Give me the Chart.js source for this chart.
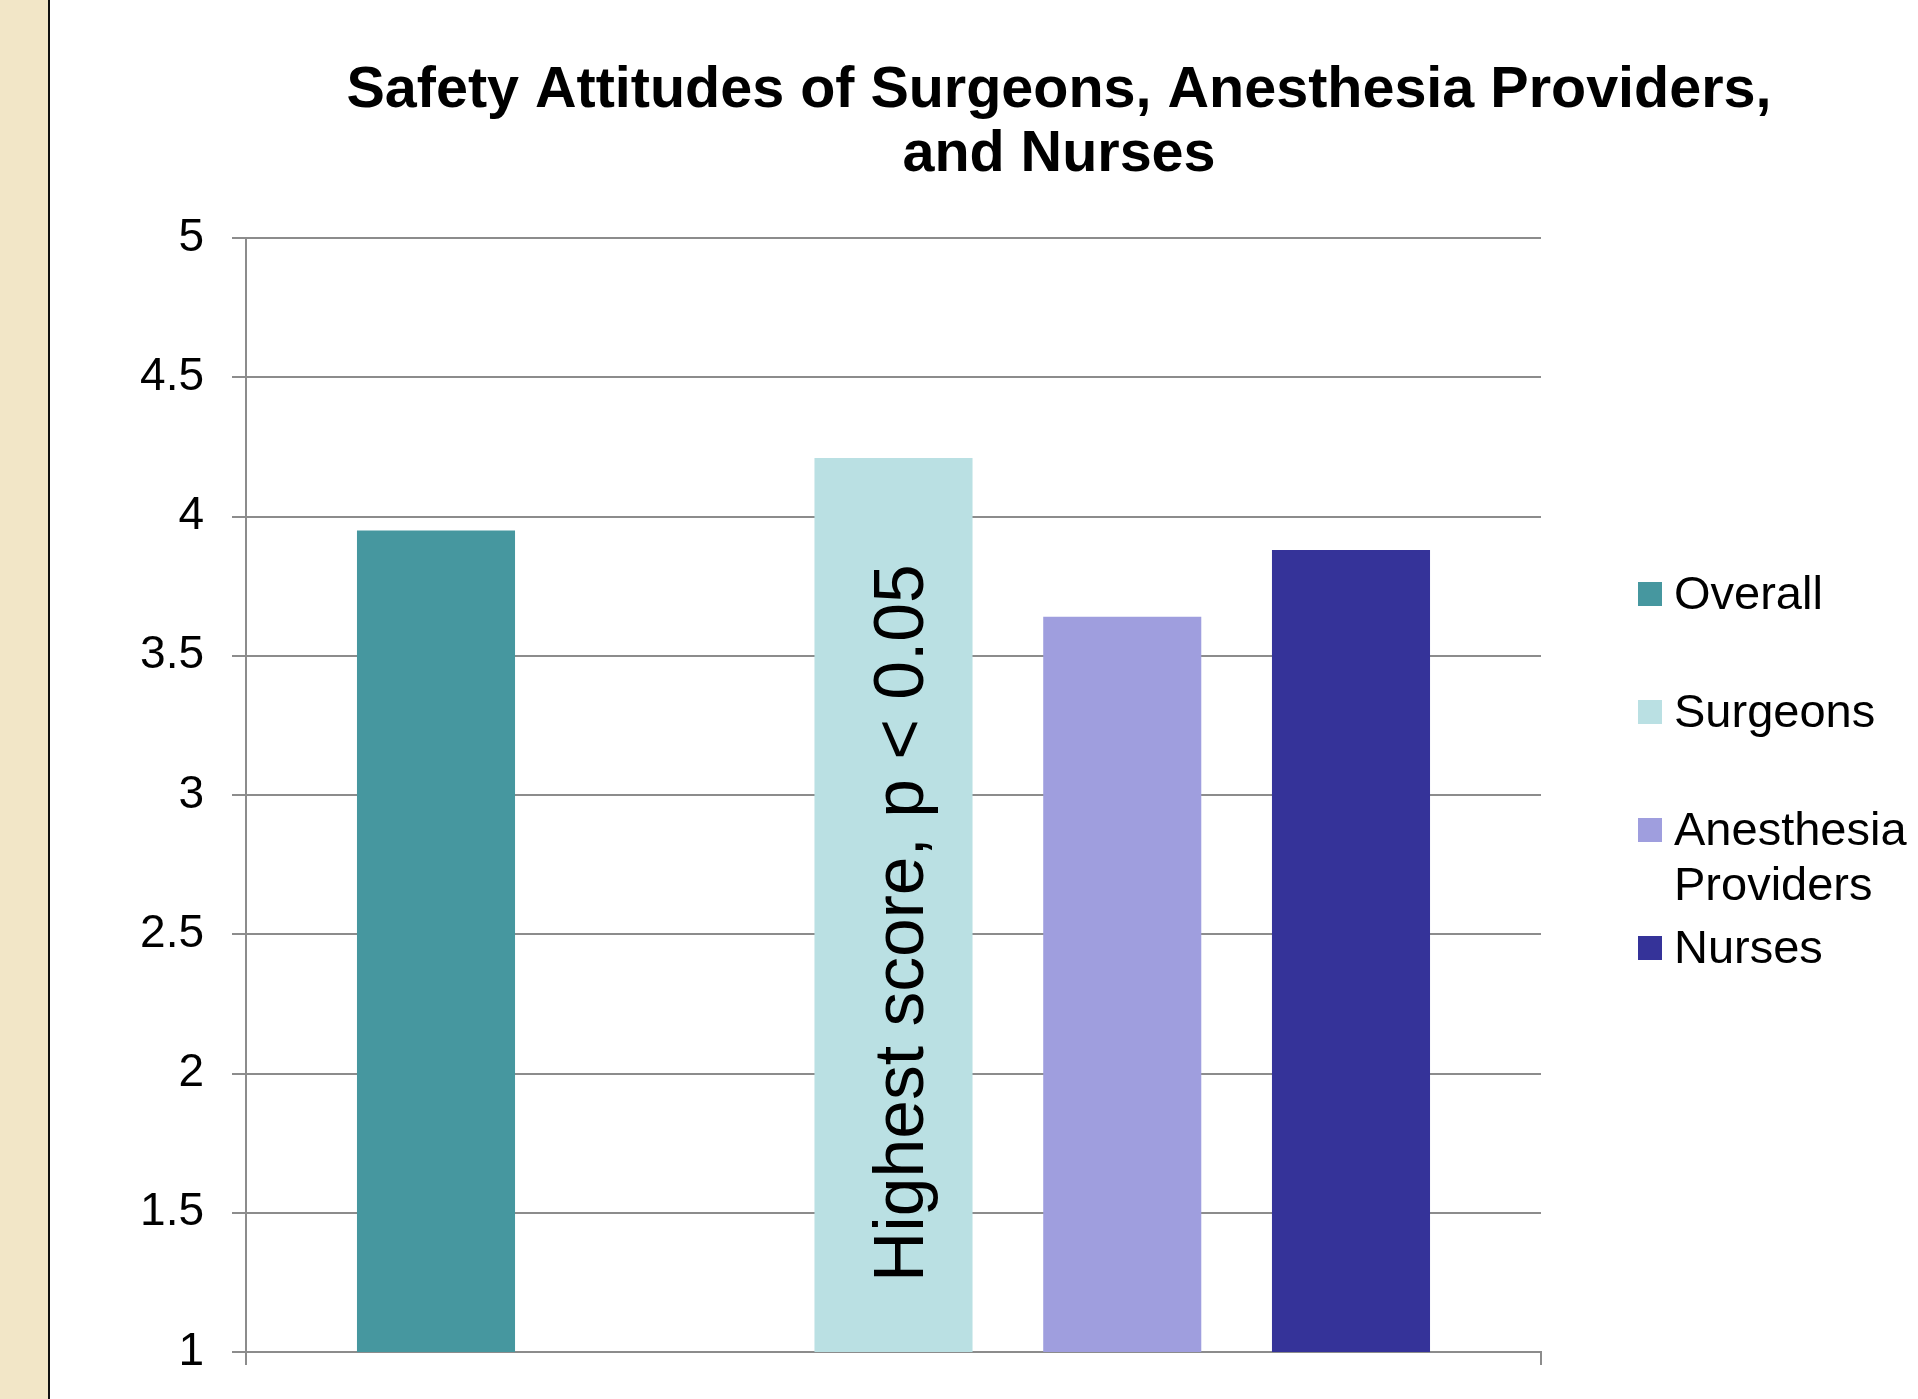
<!DOCTYPE html>
<html>
<head>
<meta charset="utf-8">
<script src="https://cdn.jsdelivr.net/npm/chart.js@4/dist/chart.umd.min.js"></script>
<style>
  html, body { margin: 0; padding: 0; background: #fff; overflow: hidden; }
  #strip { position: absolute; left: 0; top: 0; width: 48px; height: 1399px; background: #f2e6c7; border-right: 2px solid #111; }
  #chart { position: absolute; left: 0; top: 0; }
</style>
</head>
<body>
<div id="strip"></div>
<canvas id="chart" width="1918" height="1399"></canvas>
<script>
const TITLE = ['Safety Attitudes of Surgeons, Anesthesia Providers,', 'and Nurses'];
const CATEGORIES = [''];
// the blank series keeps the empty slot between Overall and Surgeons
const SERIES_NAMES = ['Overall', '', 'Surgeons', 'Anesthesia Providers', 'Nurses'];
const SERIES_VALUES = [3.95, null, 4.21, 3.64, 3.88];
const Y_TICKS = [1, 1.5, 2, 2.5, 3, 3.5, 4, 4.5, 5];
const NOTE = 'Highest score, p < 0.05';
const NOTE_SERIES = 2;

const COLORS = ['#46979f', '#ffffff', '#bae0e3', '#9f9ede', '#353399'];
const FONT = '"Liberation Sans", Arial, sans-serif';
const GRID = '#8c8c8c';

const decorations = {
  id: 'decorations',
  afterDraw(chart) {
    const { ctx, chartArea, scales } = chart;
    ctx.save();
    ctx.fillStyle = '#000';

    // title
    ctx.font = `bold 57.5px ${FONT}`;
    ctx.textAlign = 'center';
    ctx.textBaseline = 'alphabetic';
    TITLE.forEach((line, i) => ctx.fillText(line, 1059, 107 + i * 64));

    // rotated note inside the Surgeons bar
    const bar = chart.getDatasetMeta(NOTE_SERIES).data[0];
    ctx.save();
    ctx.translate(bar.x + 29, scales.y.getPixelForValue(2.54));
    ctx.rotate(-Math.PI / 2);
    ctx.font = `69.6px ${FONT}`;
    ctx.textAlign = 'center';
    ctx.fillText(NOTE, 0, 0);
    ctx.restore();

    // legend
    ctx.font = `47px ${FONT}`;
    ctx.textAlign = 'left';
    ctx.textBaseline = 'middle';
    const boxX = chartArea.right + 97;
    let row = 0;
    SERIES_NAMES.forEach((name, i) => {
      if (!name) return;
      const cy = 594 + row * 118;
      ctx.fillStyle = COLORS[i];
      ctx.fillRect(boxX, cy - 12, 24, 24);
      ctx.fillStyle = '#000';
      const lines = [];
      let cur = '';
      name.split(' ').forEach((w) => {
        const t = cur ? cur + ' ' + w : w;
        if (ctx.measureText(t).width > 240 && cur) { lines.push(cur); cur = w; } else cur = t;
      });
      lines.push(cur);
      lines.forEach((l, k) => ctx.fillText(l, boxX + 36, cy + 2 + k * 55));
      row++;
    });
    ctx.restore();
  },
};

new Chart(document.getElementById('chart'), {
  type: 'bar',
  data: {
    labels: CATEGORIES,
    datasets: SERIES_NAMES.map((name, i) => ({
      label: name,
      data: [SERIES_VALUES[i]],
      backgroundColor: COLORS[i],
      categoryPercentage: 0.8832,
      barPercentage: 0.691,
    })),
  },
  options: {
    responsive: false,
    animation: false,
    layout: { padding: { left: 50, top: 238, right: 377, bottom: 0 } },
    plugins: { legend: { display: false }, title: { display: false }, tooltip: { enabled: false } },
    scales: {
      x: {
        grid: { display: true, drawOnChartArea: false, color: GRID, lineWidth: 2, tickLength: 13 },
        border: { display: true, color: GRID, width: 2 },
        ticks: { display: false },
        afterFit: (s) => { s.height = 47; s.paddingLeft = 0; s.paddingRight = 0; },
      },
      y: {
        min: 1,
        max: 5,
        afterBuildTicks: (s) => { s.ticks = Y_TICKS.map((v) => ({ value: v })); },
        grid: { color: GRID, lineWidth: 2, tickLength: 14 },
        border: { display: true, color: GRID, width: 2 },
        ticks: { color: '#000', padding: 28, font: { family: FONT, size: 46 }, callback: (v) => String(v) },
        afterFit: (s) => { s.width = 196; s.paddingTop = 0; s.paddingBottom = 0; },
      },
    },
  },
  plugins: [decorations],
});
</script>
</body>
</html>
